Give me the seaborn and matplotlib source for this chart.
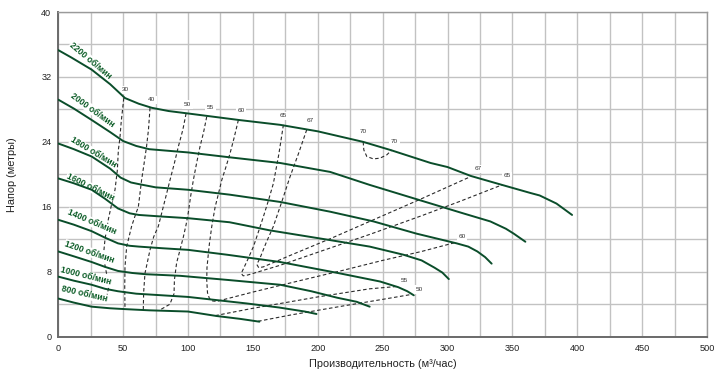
import numpy as np
import pandas as pd
import matplotlib
matplotlib.use('Agg')
import matplotlib.pyplot as plt
import seaborn as sns

sns.set_theme(style='white')
plt.rcParams['font.family'] = ['Liberation Sans', 'DejaVu Sans']

# ---- head curves (flow m3/h, head m) ----
q_2200 = [0, 10, 25.7, 40, 51.4, 62, 72, 85, 100, 139, 171, 200, 235, 256, 287, 300, 318, 342, 364, 371, 384, 396]
h_2200 = [35.3, 34.4, 32.9, 31.1, 29.4, 28.7, 28.2, 27.8, 27.5, 26.7, 26.1, 25.3, 24.0, 23.0, 21.4, 20.9, 19.8, 18.7, 17.7, 17.4, 16.4, 15.0]
q_2000 = [0, 12, 25.7, 40, 50, 60, 70, 85, 100, 132, 171, 209.5, 240, 279, 312, 333, 345, 351, 360]
h_2000 = [29.2, 28.1, 26.7, 25.2, 24.1, 23.5, 23.1, 22.9, 22.7, 22.1, 21.4, 20.3, 18.7, 16.8, 15.2, 14.2, 13.3, 12.7, 11.7]
q_1800 = [0, 12, 25.7, 40, 48, 56, 62, 75, 100, 132, 171, 209.5, 243, 276, 307, 316, 323, 329, 334]
h_1800 = [23.8, 23.1, 22.2, 20.7, 19.6, 19.0, 18.8, 18.4, 18.1, 17.5, 16.6, 15.4, 14.2, 12.7, 11.5, 11.1, 10.5, 9.8, 9.0]
q_1600 = [0, 12, 25.7, 36, 46, 55, 62, 80, 100, 132, 163, 209.5, 240, 266, 280, 290, 296, 301]
h_1600 = [19.5, 18.9, 18.1, 17.0, 15.8, 15.2, 15.0, 14.8, 14.6, 14.1, 13.1, 11.9, 11.1, 10.1, 9.4, 8.5, 7.9, 7.1]
q_1400 = [0, 12, 25.7, 36, 46, 55, 62, 80, 100, 130, 171, 217, 248, 262, 269, 274]
h_1400 = [14.4, 13.8, 13.0, 12.2, 11.5, 11.2, 11.1, 10.9, 10.7, 10.1, 9.2, 7.8, 6.8, 6.1, 5.6, 5.1]
q_1200 = [0, 12, 25.7, 36, 46, 57, 67, 94, 130, 171, 195, 215, 230, 240]
h_1200 = [10.5, 9.9, 9.2, 8.6, 8.1, 7.85, 7.7, 7.5, 7.0, 6.4, 5.6, 4.8, 4.3, 3.7]
q_1000 = [0, 12, 25.7, 36, 46, 60, 100, 145, 170, 190, 199]
h_1000 = [7.4, 6.9, 6.4, 5.9, 5.6, 5.3, 4.9, 4.1, 3.6, 3.1, 2.8]
q_800 = [0, 12, 25.7, 40, 51, 70, 100, 122, 140, 155]
h_800 = [4.7, 4.2, 3.7, 3.5, 3.4, 3.25, 3.1, 2.55, 2.2, 1.85]

rpm_names = ['2200 об/мин', '2000 об/мин', '1800 об/мин', '1600 об/мин',
             '1400 об/мин', '1200 об/мин', '1000 об/мин', '800 об/мин']
rpm_q = [q_2200, q_2000, q_1800, q_1600, q_1400, q_1200, q_1000, q_800]
rpm_h = [h_2200, h_2000, h_1800, h_1600, h_1400, h_1200, h_1000, h_800]

# ---- efficiency iso-lines (%) ----
q_eff30 = [50.5, 48.5, 47.5, 46.3, 45.5, 43.7, 41.2, 38.5, 36, 34.7, 37.5, 39, 37.3]
h_eff30 = [29.4, 26.5, 24.5, 23.0, 20.5, 18.1, 16.4, 14.4, 12, 9.9, 7.5, 6.2, 4.9]
q_eff40 = [70.7, 69.5, 68, 66, 64.2, 61.7, 59, 56.5, 52.7, 51.4, 51.2, 51.4]
h_eff40 = [28.2, 25.5, 23.4, 21.2, 19.3, 16.0, 14.8, 13.6, 11.1, 8.6, 6.1, 3.4]
q_eff50 = [98.5, 96, 92.5, 89.5, 86.1, 82.5, 79.8, 77.1, 73.5, 70.7, 66.8, 65.8, 65.5]
h_eff50 = [27.5, 25.5, 23.4, 21.4, 19.3, 17.0, 15.3, 13.6, 12.3, 10.7, 7.8, 5.5, 3.3]
q_eff50b = [154, 180, 220, 250, 272]
h_eff50b = [1.9, 2.7, 3.8, 4.6, 5.2]
q_eff55 = [114.4, 112, 109.2, 106.5, 104.1, 102, 100.2, 98.5, 96.4, 93.5, 91.2, 89.5, 89.2, 86, 78.4]
h_eff55 = [27.1, 25.2, 23.4, 21.3, 19.3, 17.3, 15.3, 13.8, 12.3, 10.5, 9.1, 7.0, 5.3, 4.0, 3.3]
q_eff55b = [121, 150, 200, 240, 262]
h_eff55b = [2.6, 3.5, 4.9, 5.9, 6.2]
q_eff60 = [138.8, 135.5, 132.4, 129, 126, 122.5, 120.9, 118.3, 116.5, 115.7, 114.6, 114.4, 115, 116.5, 119, 122.1, 150, 186, 220, 250, 280, 306]
h_eff60 = [26.7, 24.5, 22.6, 20.8, 19.3, 17.0, 16.0, 13.6, 11.5, 10.3, 8.5, 7.0, 5.4, 4.7, 4.4, 4.35, 5.5, 6.9, 8.2, 9.4, 10.5, 11.6]
q_eff65 = [173.5, 170, 165.8, 162, 158.1, 154, 150.4, 146, 142.5, 141, 142.5, 146, 171, 200, 240, 280, 310, 342]
h_eff65 = [26.1, 22.5, 18.9, 16.8, 14.8, 12.8, 11.1, 9.5, 8.3, 7.8, 7.5, 7.6, 8.8, 10.4, 12.6, 14.9, 16.7, 18.7]
q_eff67 = [191.5, 185, 178.6, 172, 165.8, 160, 155.5, 153, 154.5, 158, 180, 210, 240, 280, 317.5]
h_eff67 = [25.5, 22.5, 19.7, 16.5, 13.6, 11.5, 9.7, 8.9, 8.5, 8.6, 10.1, 12.1, 14.2, 17.0, 19.7]
q_eff70 = [235, 235.5, 237.8, 242.9, 248, 253.2, 257]
h_eff70 = [24.0, 23.0, 22.2, 21.9, 22.0, 22.4, 23.0]

eff_q = [q_eff30, q_eff40, q_eff50, q_eff50b, q_eff55, q_eff55b, q_eff60, q_eff65, q_eff67, q_eff70]
eff_h = [h_eff30, h_eff40, h_eff50, h_eff50b, h_eff55, h_eff55b, h_eff60, h_eff65, h_eff67, h_eff70]

eff_texts = ['30', '40', '50', '55', '60', '65', '67', '70', '70', '67', '65', '60', '55', '50']

x_ticks = [0, 50, 100, 150, 200, 250, 300, 350, 400, 450, 500]
y_ticks = [0, 8, 16, 24, 32, 40]

# ---- layout (positions only) ----
rpm_label_pos = [(22.4, 33.6), (23.9, 27.5), (25.0, 22.2), (22.9, 17.9),
                 (24.2, 13.6), (22.9, 9.9), (20.3, 7.0), (19.0, 4.7)]
rpm_label_rot = [-40, -36, -31, -26, -23, -19, -14, -13]
eff_label_pos = [(51.4, 30.4), (72, 29.2), (99.5, 28.6), (117.5, 28.2), (140.9, 27.9),
                 (173.5, 27.2), (194, 26.6), (235, 25.3), (259, 24.1), (323.8, 20.7),
                 (345.7, 19.8), (311, 12.3), (266.5, 6.9), (278.3, 5.8)]

GREEN = '#0a4d2a'
LABEL_GREEN = '#0b5c26'

fig = plt.figure(figsize=(7.2, 3.82), dpi=100)
ax = fig.add_axes([58.3 / 720, 1 - 336.7 / 382, (707 - 58.3) / 720, (336.7 - 12) / 382])

curves = pd.concat([pd.DataFrame({'q': q, 'h': h, 'rpm': n})
                    for q, h, n in zip(rpm_q, rpm_h, rpm_names)], ignore_index=True)
effs = pd.concat([pd.DataFrame({'q': q, 'h': h, 'line': i})
                  for i, (q, h) in enumerate(zip(eff_q, eff_h))], ignore_index=True)

sns.lineplot(data=effs, x='q', y='h', units='line', estimator=None, sort=False,
             color='#2a2a2a', lw=0.8, linestyle=(0, (3.2, 2.2)), ax=ax, legend=False, zorder=2)
sns.lineplot(data=curves, x='q', y='h', units='rpm', estimator=None, sort=False,
             color=GREEN, lw=1.4, ax=ax, legend=False, zorder=4)

OFF = 3.3  # points, perpendicular lift of curve labels
for txt, (x, y), r in zip(rpm_names, rpm_label_pos, rpm_label_rot):
    t = np.deg2rad(r)
    ax.annotate(txt, xy=(x, y), xytext=(-np.sin(t) * OFF, np.cos(t) * OFF),
                textcoords='offset points', rotation=r, rotation_mode='anchor',
                ha='center', va='center', fontsize=6.2, fontweight='bold',
                color=LABEL_GREEN, zorder=3,
                bbox=dict(fc='white', ec='none', pad=0.2))
for txt, (x, y) in zip(eff_texts, eff_label_pos):
    ax.text(x, y, txt, ha='center', va='center', fontsize=4.6, color='#333333', zorder=3,
            bbox=dict(fc='white', ec='none', pad=1.2))

ax.set_xlim(0, 500)
ax.set_ylim(0, 40)
ax.set_xticks(x_ticks)
ax.set_xticks(np.arange(0, 501, 25), minor=True)
ax.set_yticks(y_ticks)
ax.set_yticks(np.arange(0, 41, 4), minor=True)
ax.grid(which='both', color='#c2c2c2', linewidth=1.0, zorder=0)
ax.set_axisbelow(True)
ax.tick_params(which='both', length=0, labelsize=6.6, colors='#222222')
ax.tick_params(axis='y', pad=5)
ax.tick_params(axis='x', pad=5)

for s in ['top', 'right']:
    ax.spines[s].set_color('#9a9a9a')
    ax.spines[s].set_linewidth(1.0)
for s in ['left', 'bottom']:
    ax.spines[s].set_color('#6a6a6a')
    ax.spines[s].set_linewidth(1.4)

ax.set_xlabel('Производительность (м³/час)', fontsize=7.8, color='#222222')
ax.set_ylabel('Напор (метры)', fontsize=7.8, color='#222222')
ax.xaxis.set_label_coords(0.5, -0.068)
ax.yaxis.set_label_coords(-0.064, 0.5)

fig.savefig('out.png', dpi=100)
